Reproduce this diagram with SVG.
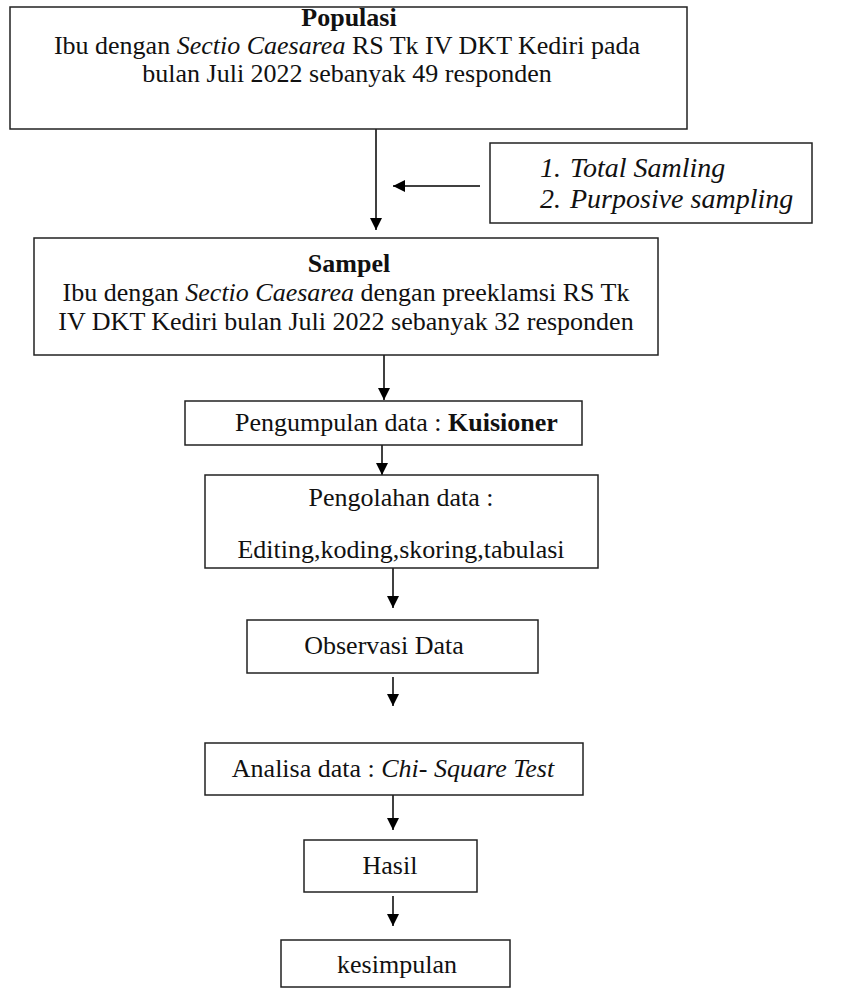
<svg xmlns="http://www.w3.org/2000/svg" width="851" height="989" viewBox="0 0 851 989">
<defs>
<marker id="ah" markerWidth="12" markerHeight="12" refX="10" refY="5" orient="auto" markerUnits="userSpaceOnUse" viewBox="0 0 10 10">
<path d="M0,0 L10,5 L0,10 Z" fill="#000"/>
</marker>
<style>
.box{fill:#fff;stroke:#222;stroke-width:1.5}
.t{font-family:"Liberation Serif","Times New Roman",serif;font-size:26px;fill:#111}
.s{font-size:28px}
.c{text-anchor:middle}
.b{font-weight:bold}
.i{font-style:italic}
.ln{stroke:#000;stroke-width:1.5;fill:none;marker-end:url(#ah)}
</style>
</defs>
<rect width="851" height="989" fill="#fff"/>
<g id="connectors">
<line class="ln" x1="376" y1="129" x2="376" y2="230"/>
<line class="ln" x1="480" y1="186" x2="393" y2="186"/>
<line class="ln" x1="384" y1="355" x2="384" y2="400"/>
<line class="ln" x1="382" y1="445" x2="382" y2="475"/>
<line class="ln" x1="393" y1="568" x2="393" y2="608"/>
<line class="ln" x1="393" y1="677" x2="393" y2="706"/>
<line class="ln" x1="393" y1="795" x2="393" y2="830"/>
<line class="ln" x1="393" y1="896" x2="393" y2="926"/>
</g>
<g id="populasi">
<rect class="box" x="10" y="7" width="677" height="122"/>
<text class="t c b" x="349" y="26">Populasi</text>
<text class="t c" x="347" y="54">Ibu dengan <tspan class="i">Sectio Caesarea</tspan> RS Tk IV DKT Kediri pada</text>
<text class="t c" x="347" y="82">bulan Juli 2022 sebanyak 49 responden</text>
</g>
<g id="teknik">
<rect class="box" x="490" y="143" width="322" height="80"/>
<text class="t s i" x="540" y="177">1.</text>
<text class="t s i" x="570" y="177">Total Samling</text>
<text class="t s i" x="540" y="208">2.</text>
<text class="t s i" x="570" y="208">Purposive sampling</text>
</g>
<g id="sampel">
<rect class="box" x="34" y="238" width="624" height="117"/>
<text class="t c b" x="349" y="272">Sampel</text>
<text class="t c" x="346" y="301">Ibu dengan <tspan class="i">Sectio Caesarea</tspan> dengan preeklamsi RS Tk</text>
<text class="t c" x="346" y="330">IV DKT Kediri bulan Juli 2022 sebanyak 32 responden</text>
</g>
<g id="pengumpulan">
<rect class="box" x="185" y="401" width="397" height="44"/>
<text class="t" x="235" y="431">Pengumpulan data : <tspan class="b">Kuisioner</tspan></text>
</g>
<g id="pengolahan">
<rect class="box" x="205" y="475" width="393" height="93"/>
<text class="t c" x="401" y="506">Pengolahan data :</text>
<text class="t c" x="401" y="558">Editing,koding,skoring,tabulasi</text>
</g>
<g id="observasi">
<rect class="box" x="247" y="620" width="291" height="53"/>
<text class="t c" x="384" y="654">Observasi Data</text>
</g>
<g id="analisa">
<rect class="box" x="205" y="743" width="378" height="52"/>
<text class="t c" x="393" y="777">Analisa data : <tspan class="i">Chi- Square Test</tspan></text>
</g>
<g id="hasil">
<rect class="box" x="304" y="840" width="173" height="52"/>
<text class="t c" x="390" y="874">Hasil</text>
</g>
<g id="kesimpulan">
<rect class="box" x="281" y="940" width="229" height="47"/>
<text class="t c" x="397" y="973">kesimpulan</text>
</g>
</svg>
